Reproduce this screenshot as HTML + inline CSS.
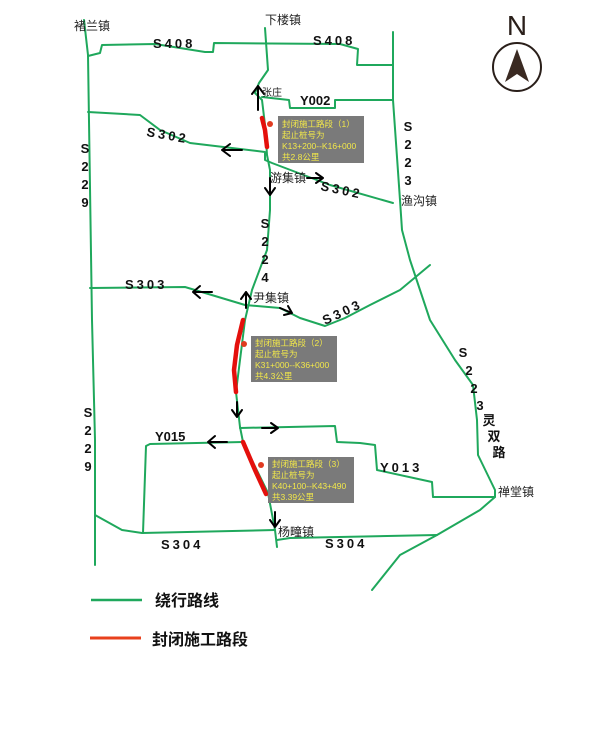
<!DOCTYPE html>
<html><head><meta charset="utf-8"><style>
body{margin:0;background:#fff;}
svg{display:block;font-family:"Liberation Sans","Noto Sans CJK SC",sans-serif;}
.g{fill:none;stroke:#1fa85c;stroke-width:2;stroke-linejoin:round;stroke-linecap:round}
.r{fill:none;stroke:#e4100c;stroke-width:4.5;stroke-linecap:round}
.a{fill:none;stroke:#000;stroke-width:2;stroke-linecap:round;stroke-linejoin:round}
.lb{font-size:13px;font-weight:bold;fill:#111;letter-spacing:3px}
.tn{font-size:12px;fill:#222}
.bx{fill:#7a7a7a}
.bt{font-size:8.5px;fill:#f2e84a}
</style></head><body>
<svg width="600" height="729" viewBox="0 0 600 729">
<!-- green roads -->
<polyline class="g" points="84,20 88,55 92,320 95,440 95,565"/>
<polyline class="g" points="88,56 100,53 102,45 155,44 205,52 213,52 214,43 340,44 358,49 357,65 393,65"/>
<polyline class="g" points="393,32 393,100 400,200 402,230 410,260 430,320 455,360 473,385 477,420 478,455 495,490 495,497"/>
<polyline class="g" points="265,28 268,70 259,83 255,93 262,100 265,125 267,155 270,170 270,210 267,250 252,290 245,320 236,392 240,427 243,442 268,493 275,530 277,547"/>
<polyline class="g" points="262,97 289,100 290,108 335,108 335,100 393,100"/>
<polyline class="g" points="88,112 140,115 160,130 190,143 265,152 265,160 272,163 330,185 393,203"/>
<polyline class="g" points="90,288 185,287 245,305 280,308 300,318 325,326 345,318 370,305 400,290 430,265"/>
<polyline class="g" points="143,533 146,446 150,444 243,442"/>
<polyline class="g" points="240,428 335,426 337,442 360,443 375,445 377,470 432,482 433,497 495,497 480,510 437,535 400,555 372,590"/>
<polyline class="g" points="95,515 122,530 142,533 275,530"/>
<polyline class="g" points="277,540 290,538 437,535"/>
<!-- red closed sections -->
<polyline class="r" points="262,118 265,130 267,147"/>
<polyline class="r" points="243,320 237,345 234,370 236,392"/>
<polyline class="r" points="243,442 255,470 266,494"/>
<!-- arrows -->
<path class="a" d="M258,110 V86 M252,94 L258,86 L264,94"/>
<path class="a" d="M242,150 H222 M230,144 L222,150 L230,156"/>
<path class="a" d="M307,178 H323 M316,173 L323,178 L316,183"/>
<path class="a" d="M270,178 V195 M265,188 L270,195 L275,188"/>
<path class="a" d="M212,292 H193 M200,286 L193,292 L200,298"/>
<path class="a" d="M246,308 V292 M241,299 L246,292 L251,299"/>
<path class="a" d="M280,308 L292,313 M284,315 L292,313 L288,306"/>
<path class="a" d="M237,402 V417 M232,410 L237,417 L242,410"/>
<path class="a" d="M262,428 H278 M271,423 L278,428 L271,433"/>
<path class="a" d="M227,442 H208 M215,436 L208,442 L215,448"/>
<path class="a" d="M275,512 V527 M270,520 L275,527 L280,520"/>
<!-- road labels -->
<text class="lb" x="153" y="48">S408</text>
<text class="lb" x="313" y="45">S408</text>
<text class="lb" x="300" y="105" style="letter-spacing:0">Y002</text>
<text class="lb" x="146" y="136" transform="rotate(10 146 136)">S302</text>
<text class="lb" x="320" y="190" transform="rotate(12 320 190)">S302</text>
<text class="lb" x="125" y="289">S303</text>
<text class="lb" x="325" y="325" transform="rotate(-25 325 325)">S303</text>
<text class="lb" x="155" y="441" style="letter-spacing:0">Y015</text>
<text class="lb" x="380" y="472">Y013</text>
<text class="lb" x="161" y="549">S304</text>
<text class="lb" x="325" y="548">S304</text>
<g class="lb" style="letter-spacing:0" text-anchor="middle">
<text x="85" y="153">S</text><text x="85" y="171">2</text><text x="85" y="189">2</text><text x="85" y="207">9</text>
<text x="88" y="417">S</text><text x="88" y="435">2</text><text x="88" y="453">2</text><text x="88" y="471">9</text>
<text x="408" y="131">S</text><text x="408" y="149">2</text><text x="408" y="167">2</text><text x="408" y="185">3</text>
<text x="265" y="228">S</text><text x="265" y="246">2</text><text x="265" y="264">2</text><text x="265" y="282">4</text>
<text x="463" y="357">S</text><text x="469" y="375">2</text><text x="474" y="393">2</text><text x="480" y="410">3</text>
<text x="489" y="425">灵</text><text x="494" y="441">双</text><text x="499" y="457">路</text>
</g>
<!-- town labels -->
<text class="tn" x="74" y="30">褚兰镇</text>
<text class="tn" x="265" y="24">下楼镇</text>
<text class="tn" x="262" y="96" style="font-size:10px">张庄</text>
<text class="tn" x="270" y="182">游集镇</text>
<text class="tn" x="401" y="205">渔沟镇</text>
<text class="tn" x="253" y="302">尹集镇</text>
<text class="tn" x="498" y="496">禅堂镇</text>
<text class="tn" x="278" y="536">杨疃镇</text>
<!-- info boxes -->
<rect class="bx" x="278" y="116" width="86" height="47"/>
<circle cx="270" cy="124" r="3" fill="#e03a20"/>
<text class="bt" x="282" y="127">封闭施工路段（1）</text><text class="bt" x="282" y="138">起止桩号为</text><text class="bt" x="282" y="149">K13+200--K16+000</text><text class="bt" x="282" y="160">共2.8公里</text>
<rect class="bx" x="251" y="336" width="86" height="46"/>
<circle cx="244" cy="344" r="3" fill="#e03a20"/>
<text class="bt" x="255" y="346">封闭施工路段（2）</text><text class="bt" x="255" y="357">起止桩号为</text><text class="bt" x="255" y="368">K31+000--K36+000</text><text class="bt" x="255" y="379">共4.3公里</text>
<rect class="bx" x="268" y="457" width="86" height="46"/>
<circle cx="261" cy="465" r="3" fill="#e03a20"/>
<text class="bt" x="272" y="467">封闭施工路段（3）</text><text class="bt" x="272" y="478">起止桩号为</text><text class="bt" x="272" y="489">K40+100--K43+490</text><text class="bt" x="272" y="500">共3.39公里</text>
<!-- compass -->
<text x="517" y="35" text-anchor="middle" style="font-size:28px;fill:#2a1f1a">N</text>
<circle cx="517" cy="67" r="24" fill="none" stroke="#2a1f1a" stroke-width="2"/>
<polygon points="517,49 505,82 517,74 529,82" fill="#3a2a22"/>
<!-- legend -->
<line x1="91" y1="600" x2="142" y2="600" stroke="#1fa85c" stroke-width="2.5"/>
<text x="155" y="606" style="font-size:16px;font-weight:bold;fill:#111">绕行路线</text>
<line x1="90" y1="638" x2="141" y2="638" stroke="#e8401c" stroke-width="3"/>
<text x="152" y="645" style="font-size:16px;font-weight:bold;fill:#111">封闭施工路段</text>
</svg>
</body></html>
